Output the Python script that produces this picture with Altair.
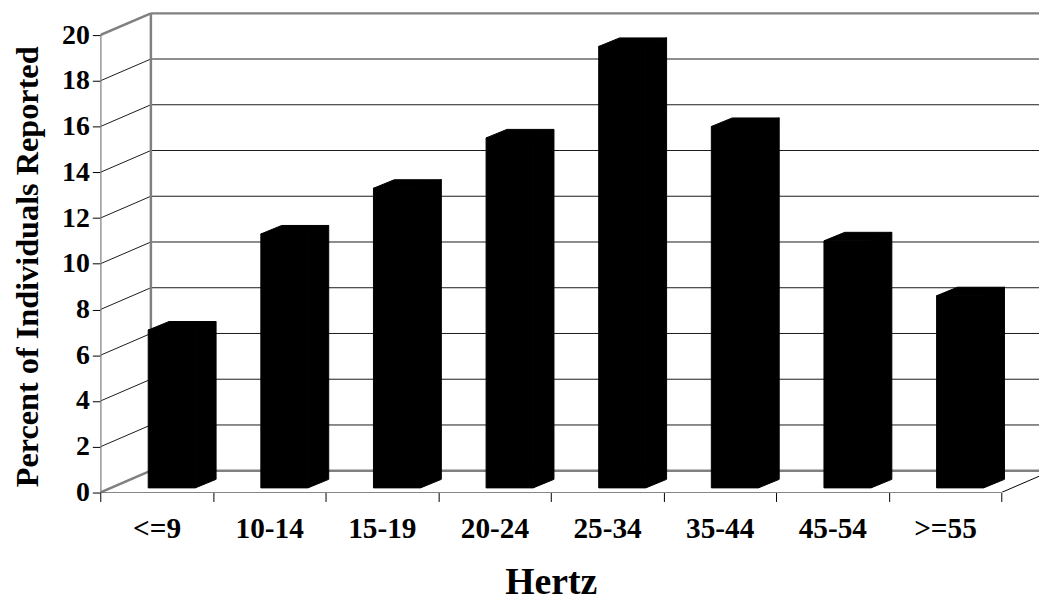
import json
import altair as alt
import pandas as pd

# ---- data ----
categories = ["<=9", "10-14", "15-19", "20-24", "25-34", "35-44", "45-54", ">=55"]
percents = [6.9, 11.1, 13.1, 15.3, 19.3, 15.8, 10.8, 8.4]
y_tick_values = [0, 2, 4, 6, 8, 10, 12, 14, 16, 18, 20]

# ---- projection / layout constants (pixel styles converted to data units) ----
PX_PER_CAT = 113.5
PX_PER_PCT = 23.05
PLOT_W = 946
PLOT_H = 484
X_MAX = PLOT_W / PX_PER_CAT
Y_MAX = PLOT_H / PX_PER_PCT

WALL_DX = 51 / PX_PER_CAT
WALL_DY = 22 / PX_PER_PCT
BAR_OFF = 48.3 / PX_PER_CAT
BAR_W = 47.4 / PX_PER_CAT
BAR_DX = 21 / PX_PER_CAT
BAR_DY = 8.6 / PX_PER_PCT
BAR_BASE = 4.7 / PX_PER_PCT
N = len(categories)
TOP = y_tick_values[-1]
FONT = "Liberation Serif"

x_scale = alt.Scale(domain=[0, X_MAX], nice=False, zero=False)
y_scale = alt.Scale(domain=[0, Y_MAX], nice=False, zero=False)

label_expr = "datum.value < %d ? %s[datum.value] : ''" % (N, json.dumps(categories))

x_axis = alt.Axis(
    values=list(range(N + 1)), labelExpr=label_expr, labelOffset=PX_PER_CAT / 2,
    tickSize=9, tickColor="black", tickWidth=1, domain=False, grid=False,
    labelFont=FONT, labelFontWeight="bold", labelFontSize=29.5, labelColor="black",
    labelAngle=0, labelAlign="center", labelBaseline="alphabetic", labelPadding=36,
    labelFlush=False, labelOverlap=False, labelBound=False,
    title="Hertz", titleFont=FONT, titleFontWeight="bold", titleFontSize=38,
    titleColor="black", titleX=454, titleY=102, titleAlign="center",
    titleBaseline="alphabetic", titleAnchor="start",
)
y_axis = alt.Axis(
    values=y_tick_values, tickSize=8, tickColor="black", tickWidth=1,
    domain=False, grid=False,
    labelFont=FONT, labelFontWeight="bold", labelFontSize=28, labelColor="black",
    labelPadding=3, labelFlush=False, labelOverlap=False,
    title="Percent of Individuals Reported", titleFont=FONT, titleFontWeight="bold",
    titleFontSize=32.5, titleColor="black", titleX=-63, titleY=256, titleAngle=270,
    titleAlign="center", titleBaseline="alphabetic", titleAnchor="start",
)


def X(field):
    return alt.X(field, type="quantitative", scale=x_scale, axis=x_axis)


def Y(field):
    return alt.Y(field, type="quantitative", scale=y_scale, axis=y_axis)


def seg_layer(rows, color, width):
    df = pd.DataFrame(rows, columns=["x", "y", "x2", "y2"])
    return alt.Chart(df).mark_rule(color=color, strokeWidth=width, clip=True).encode(
        x=X("x"), y=Y("y"), x2="x2:Q", y2="y2:Q"
    )


inner = y_tick_values[1:-1]
back_grid = [(WALL_DX, v + WALL_DY, X_MAX, v + WALL_DY) for v in inner]
side_grid = [(0, v, WALL_DX, v + WALL_DY) for v in inner]
gray_frame = [
    (WALL_DX, WALL_DY, WALL_DX, TOP + WALL_DY),
    (WALL_DX, TOP + WALL_DY, X_MAX, TOP + WALL_DY),
    (0, TOP, WALL_DX, TOP + WALL_DY),
    (0, 0, 0, TOP),
    (0, 0, WALL_DX, WALL_DY),
    (WALL_DX, WALL_DY, X_MAX, WALL_DY),
]
black_floor = [
    (0, 0, N, 0),
    (N, 0, N + WALL_DX, WALL_DY),
]

# bars
front_rows, side_rows, top_rows = [], [], []
for i, (c, v) in enumerate(zip(categories, percents)):
    xl = i + BAR_OFF
    xr = xl + BAR_W
    base = BAR_BASE
    top = BAR_BASE + v
    front_rows.append({"bar": c, "xl": xl, "xr": xr, "yb": base, "yt": top})
    side_rows.append({"bar": c, "x": xr, "yh": top, "yl": base})
    side_rows.append({"bar": c, "x": xr + BAR_DX, "yh": top + BAR_DY, "yl": base + BAR_DY})
    top_rows.append({"bar": c, "y": top, "xa": xl, "xb": xr})
    top_rows.append({"bar": c, "y": top + BAR_DY, "xa": xl + BAR_DX, "xb": xr + BAR_DX})

bar_style = dict(color="black", fill="black", stroke="black", strokeWidth=1)

front = alt.Chart(pd.DataFrame(front_rows)).mark_rect(**bar_style).encode(
    x=X("xl"), x2="xr:Q", y=Y("yb"), y2="yt:Q"
)
side = alt.Chart(pd.DataFrame(side_rows)).mark_area(interpolate="linear", **bar_style).encode(
    x=X("x"), y=Y("yh"), y2="yl:Q", detail="bar:N"
)
topface = alt.Chart(pd.DataFrame(top_rows)).mark_area(
    orient="horizontal", interpolate="linear", **bar_style
).encode(y=Y("y"), x=X("xa"), x2="xb:Q", detail="bar:N")

chart = alt.layer(
    seg_layer(back_grid, "#1a1a1a", 1),
    seg_layer(side_grid, "#1a1a1a", 1),
    seg_layer(gray_frame, "#808080", 2.5),
    seg_layer(black_floor, "black", 1),
    side,
    topface,
    front,
).properties(
    width=PLOT_W,
    height=PLOT_H,
    autosize=alt.AutoSizeParams(type="none"),
    padding={"left": 93, "top": 2, "right": 0, "bottom": 109},
    background="white",
).configure_view(stroke=None)

chart.save("out.html", embed_options={"renderer": "svg", "actions": False})
